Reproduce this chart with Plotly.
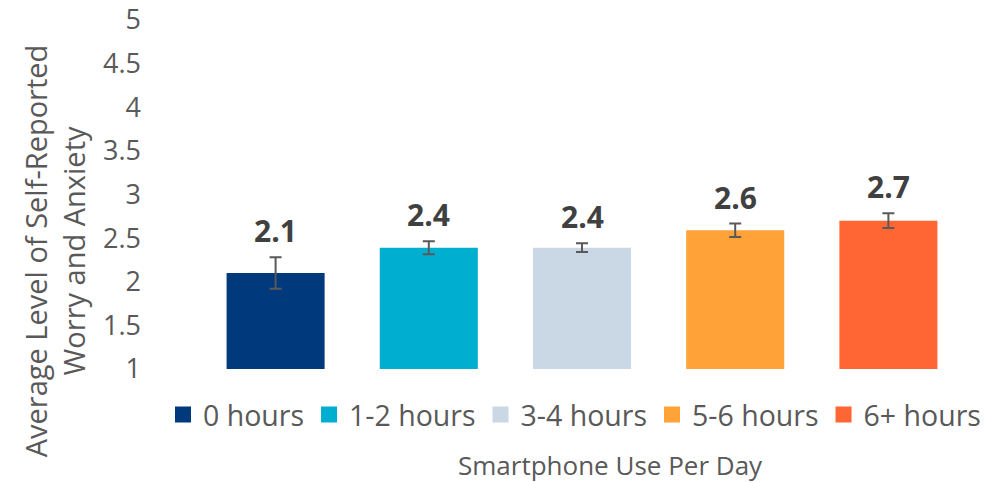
import plotly.graph_objects as go

# data
categories = ["0 hours", "1-2 hours", "3-4 hours", "5-6 hours", "6+ hours"]
means = [2.10, 2.39, 2.39, 2.59, 2.70]
errors = [0.18, 0.075, 0.05, 0.077, 0.084]
colors = ["#003A7D", "#00AFD0", "#CAD8E5", "#FFA238", "#FF6633"]

y_ticks = [1, 1.5, 2, 2.5, 3, 3.5, 4, 4.5, 5]

FONT = "Open Sans"
GRAY = "#595959"

fig = go.Figure()

for cat, m, e, c in zip(categories, means, errors, colors):
    fig.add_trace(go.Bar(
        x=[cat], y=[m], width=0.64,
        marker=dict(color=c, line=dict(width=0)),
        error_y=dict(type="data", array=[e], color=GRAY, thickness=2, width=6),
        showlegend=False, hoverinfo="skip",
    ))
    # legend-only proxy so the swatch is bigger than the bar default
    fig.add_trace(go.Scatter(
        x=[cat], y=[None], mode="markers", name=cat,
        marker=dict(symbol="square", size=16, color=c),
    ))

# value labels sit above the error bars
for cat, m, e in zip(categories, means, errors):
    fig.add_annotation(
        x=cat, y=m + e, text=f"<b>{m:.1f}</b>", showarrow=False,
        yanchor="bottom", yshift=4,
        font=dict(family=FONT, size=30, color="#404040"),
    )

fig.add_annotation(
    xref="paper", yref="paper", x=-0.189, y=0.338,
    text="Average Level of Self-Reported<br>Worry and Anxiety",
    textangle=-90, showarrow=False, xanchor="center", yanchor="middle",
    font=dict(family=FONT, size=29, color=GRAY),
)
fig.add_annotation(
    xref="paper", yref="paper", x=0.537, y=-0.275,
    text="Smartphone Use Per Day", showarrow=False,
    xanchor="center", yanchor="middle",
    font=dict(family=FONT, size=26, color=GRAY),
)

# the page body adds an 8px margin, so the figure is 8px smaller
fig.update_layout(
    width=999, height=474,
    margin=dict(l=191, r=42, t=12, b=113, autoexpand=False),
    paper_bgcolor="white", plot_bgcolor="white",
    barmode="overlay",
    font=dict(family=FONT, color=GRAY),
    legend=dict(
        orientation="h", x=-0.047, xanchor="left", y=-0.132, yanchor="middle",
        font=dict(family=FONT, size=28.5, color=GRAY),
        itemwidth=30, tracegroupgap=0,
    ),
    xaxis=dict(
        showticklabels=False, showgrid=False, zeroline=False, showline=False,
        range=[-0.5, 4.5], categoryorder="array", categoryarray=categories,
    ),
    yaxis=dict(
        range=[1, 5], tickvals=y_ticks, showgrid=False, zeroline=False,
        showline=False, ticklabelstandoff=57, ticklabeloverflow="allow",
        tickfont=dict(family=FONT, size=27, color=GRAY),
    ),
)

fig.write_html("out.html")
